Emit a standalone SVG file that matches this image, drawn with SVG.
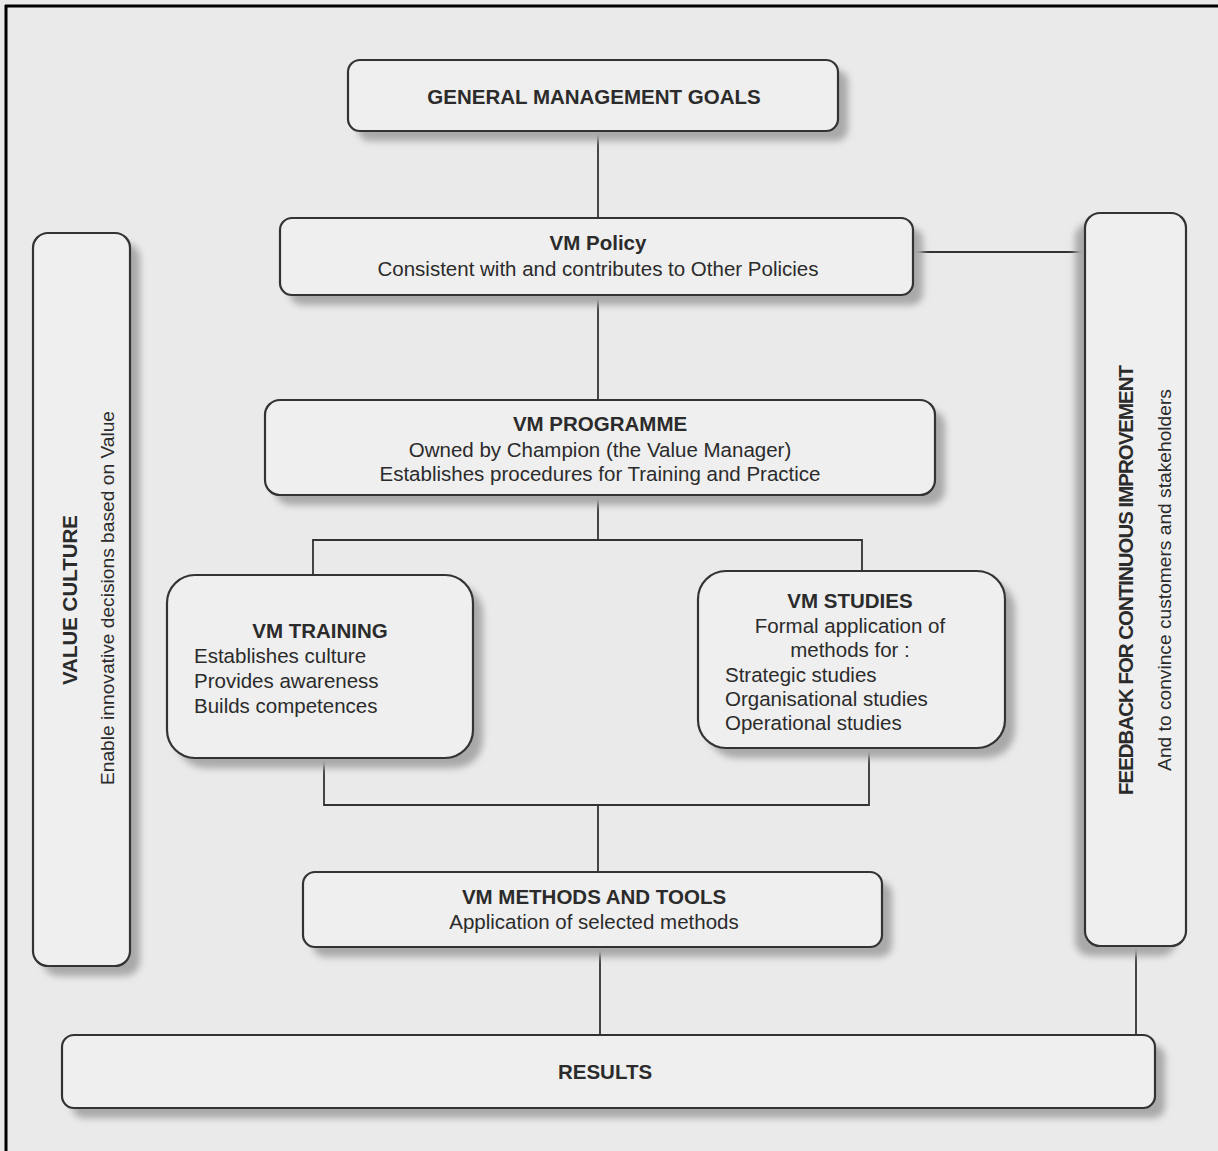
<svg xmlns="http://www.w3.org/2000/svg" width="1218" height="1151" viewBox="0 0 1218 1151">
  <defs>
    <filter id="sh" x="-10%" y="-10%" width="130%" height="130%">
      <feGaussianBlur stdDeviation="3.5"/>
    </filter>
    <style>
      .box { fill: #efefef; stroke: #333; stroke-width: 2.2; }
      .shadow { fill: #a9a9a9; filter: url(#sh); }
      .conn { fill: none; stroke: #333; stroke-width: 1.8; }
      .t { font-family: "Liberation Sans", Arial, sans-serif; fill: #2b2b2b; }
      .b { font-weight: bold; font-size: 20.5px; }
      .n { font-size: 20.5px; }
      .s { font-size: 19.2px; }
      .c { text-anchor: middle; }
    </style>
  </defs>

  <rect x="0" y="0" width="1218" height="1151" fill="#eaeaea"/>
  <path d="M5 6 H1218 M6 5 V1151" stroke="#000" stroke-width="3" fill="none"/>

  <g id="connectors">
    <path class="conn" d="M598 131 V218"/>
    <path class="conn" d="M913 252 H1085"/>
    <path class="conn" d="M598 295 V400"/>
    <path class="conn" d="M598 495 V540 M313 575 V540 H862 V571"/>
    <path class="conn" d="M324 758 V805 H869 V748 M598 805 V872"/>
    <path class="conn" d="M600 947 V1035"/>
    <path class="conn" d="M1136 946 V1035"/>
  </g>

  <g id="value-culture">
    <rect class="shadow" x="43" y="243" width="97" height="733" rx="15"/>
    <rect class="box" x="33" y="233" width="97" height="733" rx="15"/>
    <text class="t b c" font-size="19" transform="translate(77 600) rotate(-90)">VALUE CULTURE</text>
    <text class="t s c" transform="translate(114 598) rotate(-90)">Enable innovative decisions based on Value</text>
  </g>

  <g id="feedback">
    <rect class="shadow" x="1075" y="223" width="101" height="733" rx="15"/>
    <rect class="box" x="1085" y="213" width="101" height="733" rx="15"/>
    <text class="t b c" font-size="18" transform="translate(1133 580) rotate(-90)" textLength="430">FEEDBACK FOR CONTINUOUS IMPROVEMENT</text>
    <text class="t s c" transform="translate(1171 580) rotate(-90)">And to convince customers and stakeholders</text>
  </g>

  <g id="gmg">
    <rect class="shadow" x="358" y="70" width="490" height="71" rx="12"/>
    <rect class="box" x="348" y="60" width="490" height="71" rx="12"/>
    <text class="t b c" x="594" y="104">GENERAL MANAGEMENT GOALS</text>
  </g>

  <g id="vm-policy">
    <rect class="shadow" x="290" y="228" width="633" height="77" rx="12"/>
    <rect class="box" x="280" y="218" width="633" height="77" rx="12"/>
    <text class="t b c" x="598" y="250">VM Policy</text>
    <text class="t n c" x="598" y="276">Consistent with and contributes to Other Policies</text>
  </g>

  <g id="vm-programme">
    <rect class="shadow" x="275" y="410" width="670" height="95" rx="15"/>
    <rect class="box" x="265" y="400" width="670" height="95" rx="15"/>
    <text class="t b c" x="600" y="431">VM PROGRAMME</text>
    <text class="t n c" x="600" y="457">Owned by Champion (the Value Manager)</text>
    <text class="t n c" x="600" y="481">Establishes procedures for Training and Practice</text>
  </g>

  <g id="vm-training">
    <rect class="shadow" x="177" y="585" width="306" height="183" rx="28"/>
    <rect class="box" x="167" y="575" width="306" height="183" rx="28"/>
    <text class="t b c" x="320" y="638">VM TRAINING</text>
    <text class="t n" x="194" y="663">Establishes culture</text>
    <text class="t n" x="194" y="688">Provides awareness</text>
    <text class="t n" x="194" y="713">Builds competences</text>
  </g>

  <g id="vm-studies">
    <rect class="shadow" x="708" y="581" width="307" height="177" rx="28"/>
    <rect class="box" x="698" y="571" width="307" height="177" rx="28"/>
    <text class="t b c" x="850" y="608">VM STUDIES</text>
    <text class="t n c" x="850" y="633">Formal application of</text>
    <text class="t n c" x="850" y="657">methods for :</text>
    <text class="t n" x="725" y="682">Strategic studies</text>
    <text class="t n" x="725" y="706">Organisational studies</text>
    <text class="t n" x="725" y="730">Operational studies</text>
  </g>

  <g id="vm-methods">
    <rect class="shadow" x="313" y="882" width="579" height="75" rx="12"/>
    <rect class="box" x="303" y="872" width="579" height="75" rx="12"/>
    <text class="t b c" x="594" y="904">VM METHODS AND TOOLS</text>
    <text class="t n c" x="594" y="929">Application of selected methods</text>
  </g>

  <g id="results">
    <rect class="shadow" x="72" y="1045" width="1093" height="73" rx="12"/>
    <rect class="box" x="62" y="1035" width="1093" height="73" rx="12"/>
    <text class="t b c" x="605" y="1079">RESULTS</text>
  </g>
</svg>
